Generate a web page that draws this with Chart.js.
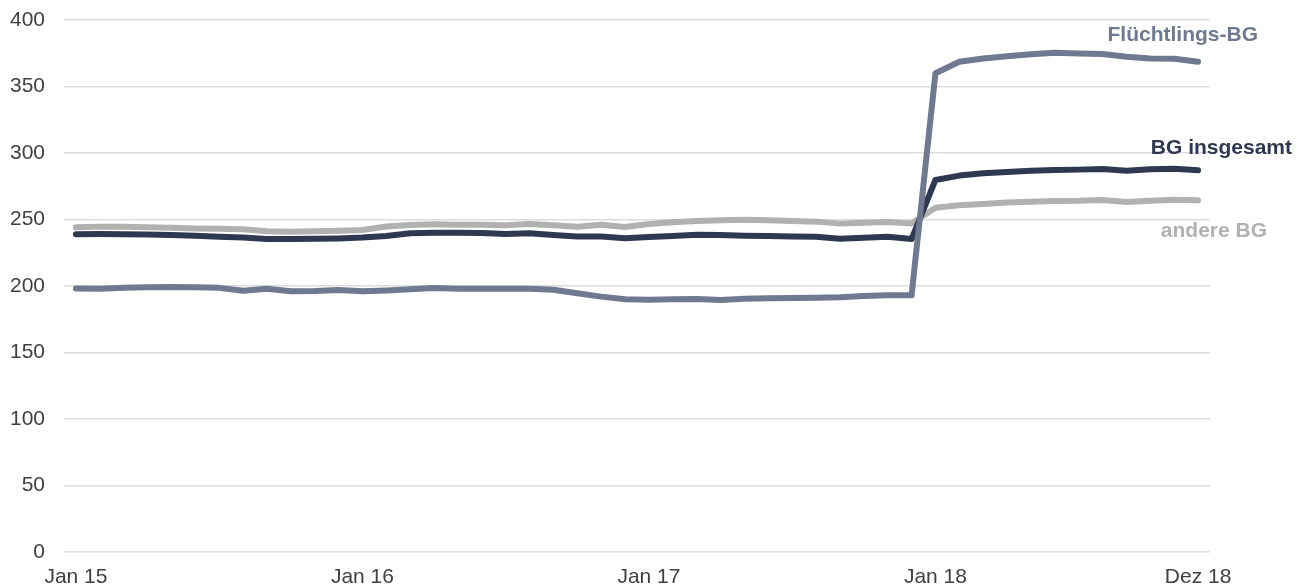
<!DOCTYPE html>
<html>
<head>
<meta charset="utf-8">
<script src="https://cdn.jsdelivr.net/npm/chart.js@4/dist/chart.umd.min.js"></script>
<style>
  html, body { margin: 0; padding: 0; background: #ffffff; }
  #wrap { width: 1308px; height: 588px; position: relative; }
</style>
</head>
<body>
<div id="wrap"><canvas id="c" width="1308" height="588"></canvas></div>
<script>
const months = ["Jan","Feb","Mär","Apr","Mai","Jun","Jul","Aug","Sep","Okt","Nov","Dez"];
const years = ["15","16","17","18"];
const categories = [];
years.forEach(y => months.forEach(m => categories.push(m + " " + y)));

const shownTickLabels = ["Jan 15", "Jan 16", "Jan 17", "Jan 18", "Dez 18"];

const fluechtlingsBG = [
  198.1, 198.0, 198.6, 199.0, 199.2, 199.0, 198.6, 196.5, 198.0, 196.0, 196.3, 197.0,
  196.1, 196.7, 197.5, 198.5, 198.0, 198.0, 198.0, 198.0, 197.2, 194.5, 192.0, 190.0,
  189.7, 190.0, 190.2, 189.5, 190.5, 190.7, 191.0, 191.2, 191.5, 192.5, 193.0, 193.0,
  360.0, 368.6, 371.0, 372.7, 374.2, 375.4, 374.9, 374.4, 372.4, 371.0, 370.8, 368.6
];
const bgInsgesamt = [
  238.9, 239.1, 239.0, 238.8, 238.3, 237.8, 237.1, 236.4, 235.3, 235.3, 235.5, 235.8,
  236.4, 237.6, 239.6, 240.1, 240.1, 239.9, 239.1, 239.6, 238.3, 237.3, 237.3, 235.9,
  236.8, 237.6, 238.6, 238.3, 237.8, 237.6, 237.3, 237.1, 235.6, 236.3, 237.1, 235.3,
  279.7, 283.0, 284.7, 285.7, 286.7, 287.2, 287.5, 288.0, 286.7, 287.7, 288.2, 287.0
];
const andereBG = [
  244.1, 244.6, 244.6, 244.1, 243.8, 243.3, 243.1, 242.6, 241.1, 240.8, 241.1, 241.6,
  242.1, 244.8, 245.9, 246.4, 246.1, 246.1, 245.6, 246.6, 245.6, 244.6, 246.1, 244.4,
  246.6, 247.9, 248.9, 249.4, 249.9, 249.4, 248.9, 248.4, 246.9, 247.6, 248.1, 247.0,
  258.9, 260.7, 261.7, 262.7, 263.4, 263.9, 264.1, 264.7, 263.2, 264.1, 264.9, 264.4
];

const seriesNames = ["Flüchtlings-BG", "BG insgesamt", "andere BG"];
const seriesColors = ["#6f798f", "#2e3850", "#b1b1b1"];

const endLabels = {
  id: "endLabels",
  afterDatasetsDraw(chart) {
    const ctx = chart.ctx;
    const y = chart.scales.y;
    const items = [
      { text: seriesNames[0], color: seriesColors[0], right: 1258, yv: 388.7 },
      { text: seriesNames[1], color: seriesColors[1], right: 1292, yv: 303.8 },
      { text: seriesNames[2], color: seriesColors[2], right: 1267, yv: 241.0 }
    ];
    ctx.save();
    ctx.font = "bold 21px 'Liberation Sans', Arial, sans-serif";
    ctx.textAlign = "right";
    ctx.textBaseline = "middle";
    items.forEach(it => {
      ctx.fillStyle = it.color;
      ctx.fillText(it.text, it.right, y.getPixelForValue(it.yv));
    });
    ctx.restore();
  }
};

const lineStyle = {
  borderWidth: 6,
  pointRadius: 0,
  pointHoverRadius: 0,
  tension: 0,
  fill: false,
  borderCapStyle: "round",
  borderJoinStyle: "round"
};

new Chart(document.getElementById("c"), {
  type: "line",
  data: {
    labels: categories,
    datasets: [
      Object.assign({ label: seriesNames[0], data: fluechtlingsBG, borderColor: seriesColors[0], order: 1 }, lineStyle),
      Object.assign({ label: seriesNames[1], data: bgInsgesamt, borderColor: seriesColors[1], order: 2 }, lineStyle),
      Object.assign({ label: seriesNames[2], data: andereBG, borderColor: seriesColors[2], order: 3 }, lineStyle)
    ]
  },
  options: {
    responsive: false,
    animation: false,
    devicePixelRatio: 1,
    layout: { padding: { left: 0, right: 98, top: 20, bottom: 0 } },
    plugins: { legend: { display: false }, tooltip: { enabled: false } },
    scales: {
      x: {
        type: "category",
        offset: true,
        grid: { display: false, drawTicks: false },
        border: { display: false },
        afterFit: function(scale) { scale.height = 36; scale.paddingLeft = 0; scale.paddingRight = 0; },
        ticks: {
          autoSkip: false,
          maxRotation: 0,
          padding: 13,
          color: "#404040",
          font: { family: "'Liberation Sans', Arial, sans-serif", size: 21 },
          callback: function(value, index) {
            const lbl = categories[index];
            return shownTickLabels.includes(lbl) ? lbl : "";
          }
        }
      },
      y: {
        min: 0,
        max: 400,
        grid: { color: "#dcdcdc", lineWidth: 1.5, drawTicks: false },
        border: { display: false },
        afterFit: function(scale) { scale.width = 64; scale.paddingTop = 0; scale.paddingBottom = 0; },
        ticks: {
          stepSize: 50,
          padding: 19,
          color: "#404040",
          font: { family: "'Liberation Sans', Arial, sans-serif", size: 21 }
        }
      }
    }
  },
  plugins: [endLabels]
});
</script>
</body>
</html>
